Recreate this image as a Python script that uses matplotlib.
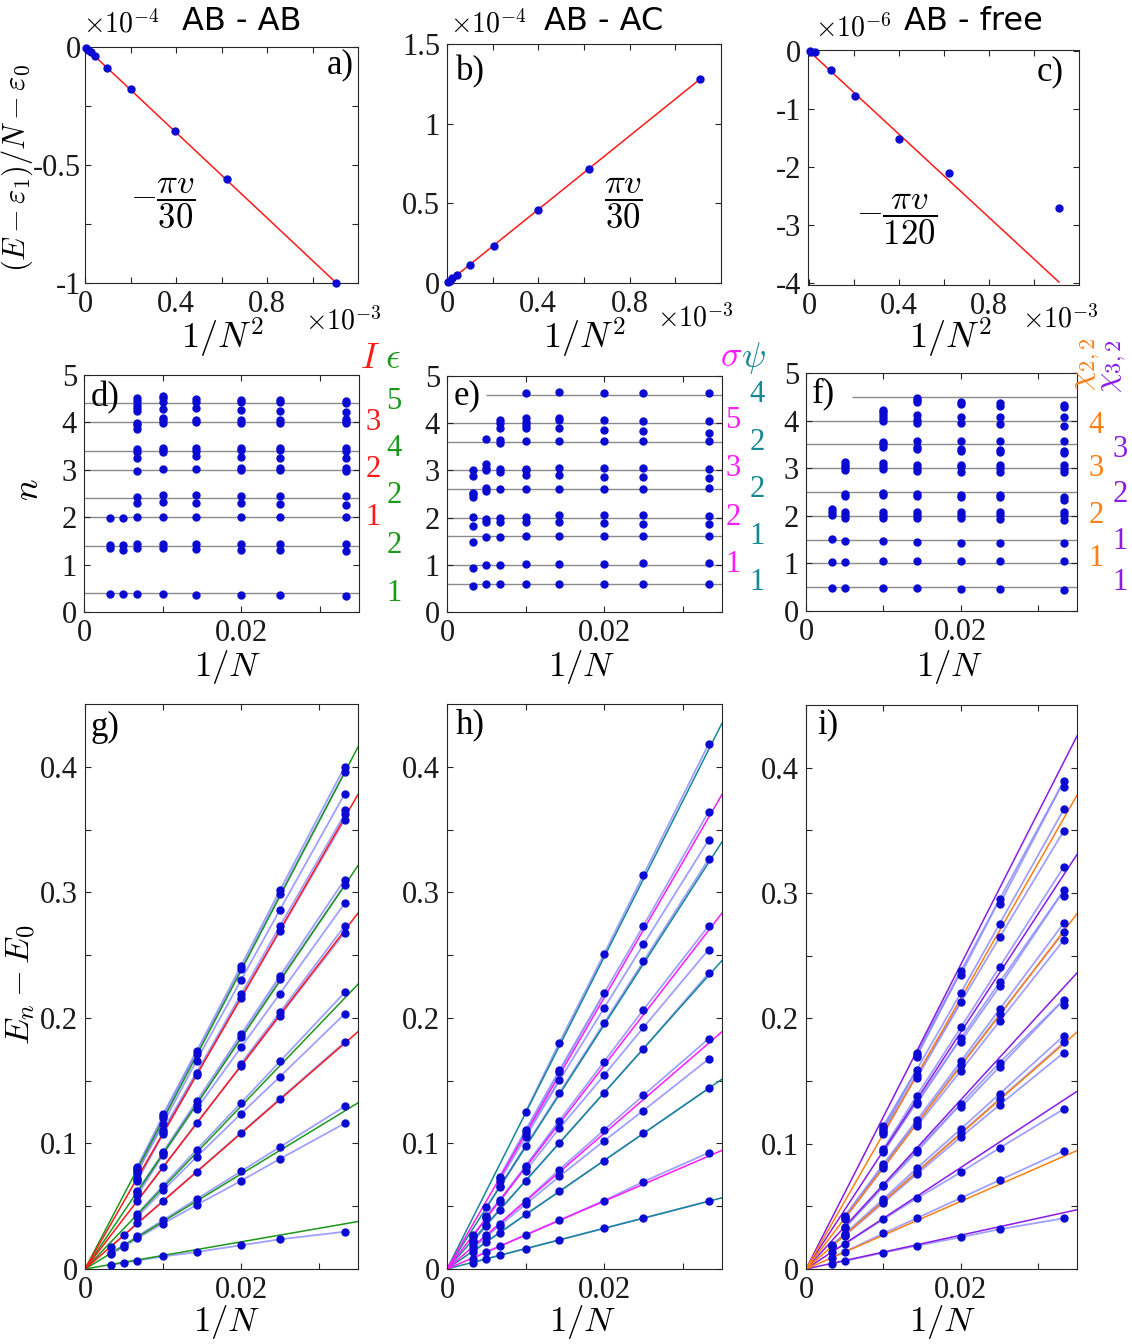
import matplotlib

matplotlib.use("Agg")
import matplotlib.pyplot as plt
import matplotlib.transforms as mtransforms

W, H = 1132, 1344
plt.rcParams["mathtext.fontset"] = "cm"
plt.rcParams["font.family"] = ["Liberation Serif", "DejaVu Serif"]
plt.rcParams["axes.unicode_minus"] = False

INK = "#262626"
DOT = "#0a0ad2"
CONN = "#8f8fff"
GRID = "#8a8a8a"
RED = "#ff1a1a"
GREEN = "#1a991a"
MAGENTA = "#ff1aff"
TEAL = "#178796"
ORANGE = "#ff7f12"
PURPLE = "#8a1ae6"

# ---- top row: (E - eps1)/N - eps0 against 1/N^2 (x in 1e-3, y in 1e-4, 1e-4, 1e-6)
a_x = [1.105, 0.623, 0.397, 0.204, 0.0975, 0.0436, 0.0247, 0.0145, 0.0044]
a_y = [-1.0, -0.56, -0.356, -0.18, -0.087, -0.037, -0.021, -0.014, -0.004]
a_fit = ([0.0, 1.105], [0.0, -1.0])

b_x = [1.107, 0.623, 0.400, 0.204, 0.099, 0.045, 0.023, 0.012, 0.006]
b_y = [1.278, 0.714, 0.456, 0.232, 0.112, 0.049, 0.032, 0.015, 0.008]
b_fit = ([0.0, 1.107], [0.0, 1.278])

c_x = [1.112, 0.623, 0.400, 0.203, 0.099, 0.025, 0.010, 0.003]
c_y = [-2.71, -2.10, -1.51, -0.78, -0.32, -0.02, -0.01, 0.0]
c_fit = ([0.0, 1.111], [0.0, -3.98])

# ---- middle row: rescaled levels n at each 1/N (N = 30, 40, 50, 70, 100, 150, 200, 300)
inv_N = [0.0333, 0.025, 0.02, 0.0143, 0.01, 0.0067, 0.005, 0.0033]
inv_N_f = [0.0333, 0.025, 0.02, 0.0143, 0.01, 0.005, 0.0033]

d_levels = [
    [0.33, 1.29, 1.44, 2.01, 2.26, 2.45, 2.98, 3.04, 3.24, 3.40, 3.45, 3.98, 4.03, 4.07, 4.21, 4.40, 4.45],
    [0.35, 1.30, 1.44, 2.01, 2.27, 2.45, 2.99, 3.03, 3.25, 3.42, 3.46, 3.99, 4.05, 4.24, 4.42, 4.47],
    [0.35, 1.30, 1.44, 2.01, 2.29, 2.45, 2.99, 3.03, 3.27, 3.42, 3.46, 3.99, 4.05, 4.26, 4.42, 4.47],
    [0.35, 1.32, 1.44, 2.01, 2.31, 2.46, 3.01, 3.30, 3.39, 3.46, 4.01, 4.05, 4.30, 4.44, 4.49],
    [0.37, 1.34, 1.44, 2.01, 2.32, 2.46, 3.01, 3.37, 3.42, 3.45, 3.98, 4.05, 4.10, 4.28, 4.44, 4.51, 4.56],
    [0.37, 1.36, 1.44, 2.01, 2.30, 2.42, 2.98, 3.24, 3.37, 3.43, 3.87, 3.94, 3.99, 4.24, 4.30, 4.37, 4.45, 4.51],
    [0.37, 1.30, 1.41, 1.99],
    [0.37, 1.35, 1.41, 1.99],
]
e_levels = [
    [0.60, 1.03, 1.60, 1.86, 2.04, 2.62, 2.83, 3.04, 3.63, 3.80, 4.05, 4.65],
    [0.60, 1.03, 1.60, 1.87, 2.05, 2.60, 2.85, 3.06, 3.63, 3.83, 4.05, 4.65],
    [0.60, 1.01, 1.60, 1.89, 2.05, 2.60, 2.86, 3.06, 3.63, 3.85, 4.07, 4.65],
    [0.60, 1.01, 1.60, 1.91, 2.05, 2.60, 2.90, 3.06, 3.63, 3.89, 4.07, 4.10, 4.67],
    [0.60, 1.01, 1.61, 1.91, 2.02, 2.60, 2.90, 3.01, 3.04, 3.63, 3.89, 3.96, 4.03, 4.10, 4.63],
    [0.60, 1.00, 1.59, 1.91, 2.00, 2.60, 2.96, 3.04, 3.59, 3.64, 3.89, 4.00, 4.07],
    [0.60, 1.00, 1.59, 1.91, 1.98, 2.56, 2.62, 3.01, 3.06, 3.13, 3.66],
    [0.56, 0.93, 1.49, 1.82, 2.02, 2.44, 2.50, 2.53, 2.88, 3.00],
]
f_levels = [
    [0.45, 1.05, 1.42, 1.92, 2.01, 2.07, 2.34, 2.39, 2.92, 2.99, 3.07, 3.31, 3.36, 3.57, 3.89, 4.08, 4.28, 4.33],
    [0.47, 1.05, 1.43, 1.94, 2.01, 2.07, 2.39, 2.44, 2.93, 3.01, 3.07, 3.34, 3.39, 3.57, 3.92, 4.08, 4.31, 4.37],
    [0.47, 1.05, 1.43, 1.95, 2.01, 2.07, 2.39, 2.44, 2.93, 3.02, 3.07, 3.36, 3.41, 3.57, 3.94, 4.08, 4.35, 4.40],
    [0.48, 1.05, 1.46, 1.96, 2.01, 2.08, 2.42, 2.46, 2.95, 3.01, 3.07, 3.41, 3.45, 3.58, 3.94, 4.01, 4.12, 4.39, 4.43, 4.47],
    [0.48, 1.05, 1.47, 1.96, 2.01, 2.07, 2.44, 2.48, 2.99, 3.04, 3.10, 3.45, 3.50, 3.55, 3.99, 4.05, 4.12, 4.18, 4.23],
    [0.48, 1.02, 1.47, 1.96, 2.01, 2.07, 2.41, 2.46, 2.97, 3.02, 3.07, 3.13],
    [0.48, 1.02, 1.52, 2.02, 2.08, 2.14],
]

# reference lines (CFT towers) and where they start on the 1/N axis
d_lines = [0.4, 1.4, 2.0, 2.4, 3.0, 3.4, 4.0, 4.4]
d_start = [0, 0, 0, 0, 0, 0, 0, 0]
e_lines = [0.6, 1.0, 1.6, 2.0, 2.6, 3.0, 3.6, 4.0, 4.6]
e_start = [0, 0, 0, 0, 0, 0, 0, 0, 0.005]
f_lines = [0.5, 1.0, 1.5, 2.0, 2.5, 3.0, 3.5, 4.0, 4.5]
f_start = [0, 0, 0, 0, 0, 0, 0, 0, 0.006]

# tower labels on the right of d-f: (value, y position)
d_I = [("1", 2.0), ("2", 3.0), ("3", 4.0)]
d_eps = [("1", 0.4), ("2", 1.4), ("2", 2.45), ("4", 3.45), ("5", 4.45)]
e_sig = [("1", 1.0), ("2", 2.0), ("3", 3.05), ("5", 4.05)]
e_psi = [("1", 0.62), ("1", 1.6), ("2", 2.6), ("2", 3.6), ("4", 4.6)]
f_chi22 = [("1", 1.1), ("2", 2.0), ("3", 3.0), ("4", 3.9)]
f_chi32 = [("1", 0.6), ("1", 1.45), ("2", 2.45), ("3", 3.4)]

# bottom row: gaps E_n - E_0 = C n / N, slope C read from the fans
C_gap = 2.7
g_red, g_green = [2.0, 3.0, 4.0], [0.4, 1.4, 2.4, 3.4, 4.4]
h_mag, h_teal = [1.0, 2.0, 3.0, 4.0], [0.6, 1.6, 2.6, 3.6, 4.6]
i_orange, i_purple = [1.0, 2.0, 3.0, 4.0], [0.5, 1.5, 2.5, 3.5, 4.5]


def rect(l, t, r, b):
    return [l / W, 1 - b / H, (r - l) / W, (b - t) / H]


def ftext(x, y, s, **kw):
    fig.text(x / W, 1 - y / H, s, **kw)


def style(ax):
    for sp in ax.spines.values():
        sp.set_color(INK)
        sp.set_linewidth(0.8)
    ax.tick_params(direction="in", top=True, right=True, length=4, width=0.8,
                   colors=INK, labelsize=22, labelcolor="#1a1a1a", pad=5)


def set_ticks(ax, axis, vals, labels):
    if axis == "x":
        ax.set_xticks(vals)
        ax.set_xticklabels(labels)
    else:
        ax.set_yticks(vals)
        ax.set_yticklabels(labels)


def pairs(xs, levels, tol=0.2):
    """Join each level to the closest level at the next (larger) N."""
    out = []
    for (x1, l1), (x2, l2) in zip(zip(xs, levels), zip(xs[1:], levels[1:])):
        for n in l2:
            m = min(l1, key=lambda v: abs(v - n))
            if abs(m - n) < tol:
                out.append(((x1, m), (x2, n)))
    return out


fig = plt.figure(figsize=(W / 100, H / 100), dpi=100)

# ---------------- top row
top = [
    ((85, 47, 358, 283), a_x, a_y, a_fit, (0, 1.2), (-1.0, 0.0),
     [-1, -0.75, -0.5, -0.25, 0], ["-1", "", "-0.5", "", "0"]),
    ((447, 44, 721, 283), b_x, b_y, b_fit, (0, 1.2), (0.0, 1.5),
     [0, 0.5, 1, 1.5], ["0", "0.5", "1", "1.5"]),
    ((808, 50, 1079, 285), c_x, c_y, c_fit, (-0.005, 1.2), (-4.03, 0.02),
     [-4, -3, -2, -1, 0], ["-4", "-3", "-2", "-1", "0"]),
]
top_axes = []
for box, xs, ys, fit, xl, yl, yt, ytl in top:
    ax = fig.add_axes(rect(*box))
    ax.plot(fit[0], fit[1], color=RED, lw=1.1, zorder=2)
    ax.plot(xs, ys, "o", color=DOT, ms=5, zorder=3, clip_on=False)
    ax.set_xlim(*xl)
    ax.set_ylim(*yl)
    set_ticks(ax, "x", [0, 0.2, 0.4, 0.6, 0.8, 1.0], ["0", "", "0.4", "", "0.8", ""])
    set_ticks(ax, "y", yt, ytl)
    style(ax)
    top_axes.append(ax)

ax_a, ax_b, ax_c = top_axes
ax_a.tick_params(axis="y", pad=3)
ax_a.text(0.34, -0.66, r"$-\dfrac{\pi v}{30}$", fontsize=25, ha="center", va="center")
ax_b.text(0.77, 0.5, r"$\dfrac{\pi v}{30}$", fontsize=25, ha="center", va="center")
ax_c.text(0.39, -2.9, r"$-\dfrac{\pi v}{120}$", fontsize=25, ha="center", va="center")

for x, y, s in [(340, 65, "a)"), (470, 72, "b)"), (1050, 72, "c)")]:
    ftext(x, y, s, fontsize=25, ha="center", va="center")
for x, y, s in [(83, 24, r"$\times10^{-4}$"), (450, 24, r"$\times10^{-4}$"), (815, 28, r"$\times10^{-6}$")]:
    ftext(x, y, s, fontsize=20, ha="left", va="center")
for x, y, s in [(305, 321, r"$\times10^{-3}$"), (657, 318, r"$\times10^{-3}$"), (1022, 319, r"$\times10^{-3}$")]:
    ftext(x, y, s, fontsize=20, ha="left", va="center")
for x, s in [(242, "AB - AB"), (604, "AB - AC"), (973, "AB - free")]:
    ftext(x, 22, s, fontsize=23, ha="center", va="center", family="DejaVu Sans")
for x in [222, 584, 950]:
    ftext(x, 338, r"$1/N^2$", fontsize=26, ha="center", va="center")
ftext(17, 168, r"$(E-\varepsilon_1)/N-\varepsilon_0$", fontsize=22, ha="center",
      va="center", rotation=90)

# ---------------- middle row
mid = [
    ((84, 375, 359, 612), inv_N, d_levels, d_lines, d_start),
    ((447, 376, 722, 612), inv_N, e_levels, e_lines, e_start),
    ((806, 373, 1077, 611), inv_N_f, f_levels, f_lines, f_start),
]
mid_axes = []
for box, xs, levels, lines, starts in mid:
    ax = fig.add_axes(rect(*box))
    ax.hlines(lines, starts, 0.035, color=GRID, lw=1.0, zorder=1)
    for x, lv in zip(xs, levels):
        ax.plot([x] * len(lv), lv, "o", color=DOT, ms=5, zorder=3)
    ax.set_xlim(0, 0.035)
    ax.set_ylim(0, 5)
    set_ticks(ax, "x", [0, 0.01, 0.02, 0.03], ["0", "", "0.02", ""])
    set_ticks(ax, "y", [0, 1, 2, 3, 4, 5], ["0", "1", "2", "3", "4", "5"])
    style(ax)
    mid_axes.append(ax)


def side_labels(ax, xfrac, items, color):
    tr = mtransforms.blended_transform_factory(ax.transAxes, ax.transData)
    for s, y in items:
        ax.text(xfrac, y, s, transform=tr, color=color, fontsize=22,
                ha="center", va="center", clip_on=False)


ax_d, ax_e, ax_f = mid_axes
side_labels(ax_d, 1.051, d_I, RED)
side_labels(ax_d, 1.127, d_eps, GREEN)
side_labels(ax_e, 1.04, e_sig, MAGENTA)
side_labels(ax_e, 1.127, e_psi, TEAL)
side_labels(ax_f, 1.07, f_chi22, ORANGE)
side_labels(ax_f, 1.159, f_chi32, PURPLE)
ftext(370, 360, r"$I$", fontsize=26, color=RED, ha="center", va="center")
ftext(393, 360, r"$\epsilon$", fontsize=26, color=GREEN, ha="center", va="center")
ftext(731, 358, r"$\sigma$", fontsize=26, color=MAGENTA, ha="center", va="center")
ftext(753, 358, r"$\psi$", fontsize=26, color=TEAL, ha="center", va="center")
ftext(1087, 364, r"$\chi_{2,2}$", fontsize=23, color=ORANGE, ha="center", va="center", rotation=90)
ftext(1114, 366, r"$\chi_{3,2}$", fontsize=23, color=PURPLE, ha="center", va="center", rotation=90)

for x, y, s in [(105, 398, "d)"), (467, 396, "e)"), (823, 394, "f)")]:
    ftext(x, y, s, fontsize=25, ha="center", va="center")
for x in [228, 582, 950]:
    ftext(x, 667, r"$1/N$", fontsize=25, ha="center", va="center")
ftext(30, 490, r"$n$", fontsize=26, ha="center", va="center", rotation=90)

# ---------------- bottom row
bot = [
    ((85, 704, 358, 1269), inv_N, d_levels, [(g_green, GREEN), (g_red, RED)]),
    ((447, 704, 722, 1269), inv_N, e_levels, [(h_teal, TEAL), (h_mag, MAGENTA)]),
    ((806, 705, 1077, 1269), inv_N_f, f_levels, [(i_purple, PURPLE), (i_orange, ORANGE)]),
]
for box, xs, levels, fans in bot:
    ax = fig.add_axes(rect(*box))
    for (x1, n1), (x2, n2) in pairs(xs, levels):
        ax.plot([x1, x2], [C_gap * n1 * x1, C_gap * n2 * x2], color=CONN,
                lw=1.3, alpha=0.85, zorder=1, solid_capstyle="round")
    for ns, col in fans:
        for n in ns:
            ax.plot([0, 0.035], [0, C_gap * n * 0.035], color=col, lw=1.1, zorder=2)
    for x, lv in zip(xs, levels):
        ax.plot([x] * len(lv), [C_gap * n * x for n in lv], "o", color=DOT, ms=5, zorder=3)
    ax.set_xlim(0, 0.035)
    ax.set_ylim(0, 0.45)
    set_ticks(ax, "x", [0, 0.01, 0.02, 0.03], ["0", "", "0.02", ""])
    yt = [0, 0.05, 0.1, 0.15, 0.2, 0.25, 0.3, 0.35, 0.4]
    set_ticks(ax, "y", yt, ["0", "", "0.1", "", "0.2", "", "0.3", "", "0.4"])
    style(ax)

for x, y, s in [(105, 727, "g)"), (470, 725, "h)"), (828, 725, "i)")]:
    ftext(x, y, s, fontsize=25, ha="center", va="center")
for x in [227, 583, 943]:
    ftext(x, 1322, r"$1/N$", fontsize=25, ha="center", va="center")
ftext(21, 985, r"$E_n-E_0$", fontsize=25, ha="center", va="center", rotation=90)

fig.savefig("out.png", dpi=100)
